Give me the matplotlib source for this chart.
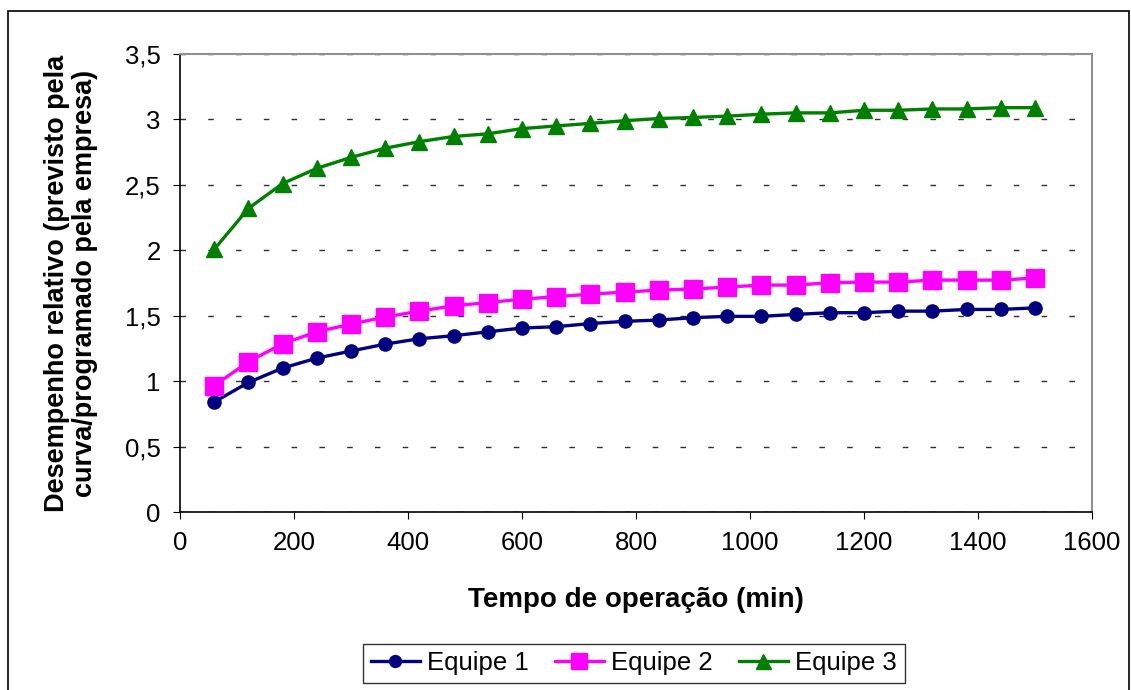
import matplotlib.pyplot as plt
from matplotlib.ticker import FuncFormatter
from matplotlib.patches import Rectangle

plt.rcParams['font.family'] = ['Liberation Sans', 'DejaVu Sans']

# tempo de operacao (min)
tempo = [60, 120, 180, 240, 300, 360, 420, 480, 540, 600, 660, 720, 780,
         840, 900, 960, 1020, 1080, 1140, 1200, 1260, 1320, 1380, 1440, 1500]

equipe1 = [0.84, 0.99, 1.10, 1.176, 1.23, 1.283, 1.324, 1.347, 1.377, 1.406,
           1.416, 1.44, 1.457, 1.467, 1.485, 1.495, 1.495, 1.51, 1.523, 1.523,
           1.535, 1.535, 1.548, 1.548, 1.56]
equipe2 = [0.965, 1.148, 1.286, 1.377, 1.436, 1.49, 1.535, 1.576, 1.60, 1.627,
           1.645, 1.665, 1.68, 1.696, 1.704, 1.719, 1.734, 1.734, 1.752, 1.757,
           1.757, 1.772, 1.772, 1.772, 1.788]
equipe3 = [2.007, 2.32, 2.51, 2.626, 2.71, 2.78, 2.83, 2.87, 2.89, 2.93,
           2.95, 2.97, 2.99, 3.007, 3.015, 3.025, 3.04, 3.05, 3.05, 3.07,
           3.07, 3.08, 3.08, 3.09, 3.09]

fig = plt.figure(figsize=(11.31, 6.9), dpi=100)
ax = fig.add_axes([180 / 1131, 1 - 512 / 690, (1092 - 180) / 1131, (512 - 54) / 690])

ax.plot(tempo, equipe1, color='#000080', lw=2.4, marker='o', ms=9.5, label='Equipe 1')
ax.plot(tempo, equipe2, color='#FF00FF', lw=2.4, marker='s', ms=13, label='Equipe 2')
ax.plot(tempo, equipe3, color='#008000', lw=2.4, marker='^', ms=12, label='Equipe 3')

ax.set_xlim(0, 1600)
ax.set_ylim(0, 3.5)
ax.set_xticks(range(0, 1601, 200))
ax.set_yticks([i * 0.5 for i in range(8)])
ax.yaxis.set_major_formatter(FuncFormatter(lambda v, p: ('%g' % v).replace('.', ',')))
ax.tick_params(labelsize=18.5, direction='out', length=5, color='black')
ax.tick_params(axis='y', pad=9)
ax.tick_params(axis='x', pad=9)

ax.yaxis.grid(True, color='#303030', linestyle=(0, (4, 16)), linewidth=1)
ax.set_axisbelow(True)
for s in ['top', 'right']:
    ax.spines[s].set_color('#909090')
    ax.spines[s].set_linewidth(1.5)
for s in ['left', 'bottom']:
    ax.spines[s].set_color('black')
    ax.spines[s].set_linewidth(1.2)

ax.set_xlabel('Tempo de operação (min)', fontsize=20, fontweight='bold')
ax.xaxis.set_label_coords(636 / 1131, 1 - 600 / 690, transform=fig.transFigure)
ax.xaxis.label.set_va('center')
ax.set_ylabel('Desempenho relativo (previsto pela\ncurva/programado pela empresa)',
              fontsize=19.5, fontweight='bold', linespacing=1.1)
ax.yaxis.set_label_coords(71 / 1131, 1 - 283 / 690, transform=fig.transFigure)
ax.yaxis.label.set_va('center')

leg = fig.legend(loc='lower center', bbox_to_anchor=(634 / 1131, -6 / 690), ncol=3,
                 fontsize=18.5, frameon=True, fancybox=False, edgecolor='black',
                 handlelength=1.9, columnspacing=1.0, handletextpad=0.3,
                 borderpad=0.3, borderaxespad=0.5, markerscale=0.9)
leg.get_frame().set_linewidth(1.0)

# borda externa do grafico
fig.patches.append(Rectangle((8 / 1131, -0.01), (1129 - 8) / 1131, 1 - 11 / 690 + 0.01,
                             transform=fig.transFigure, fill=False,
                             edgecolor='black', linewidth=1.2))

fig.savefig('out.png', dpi=100)
